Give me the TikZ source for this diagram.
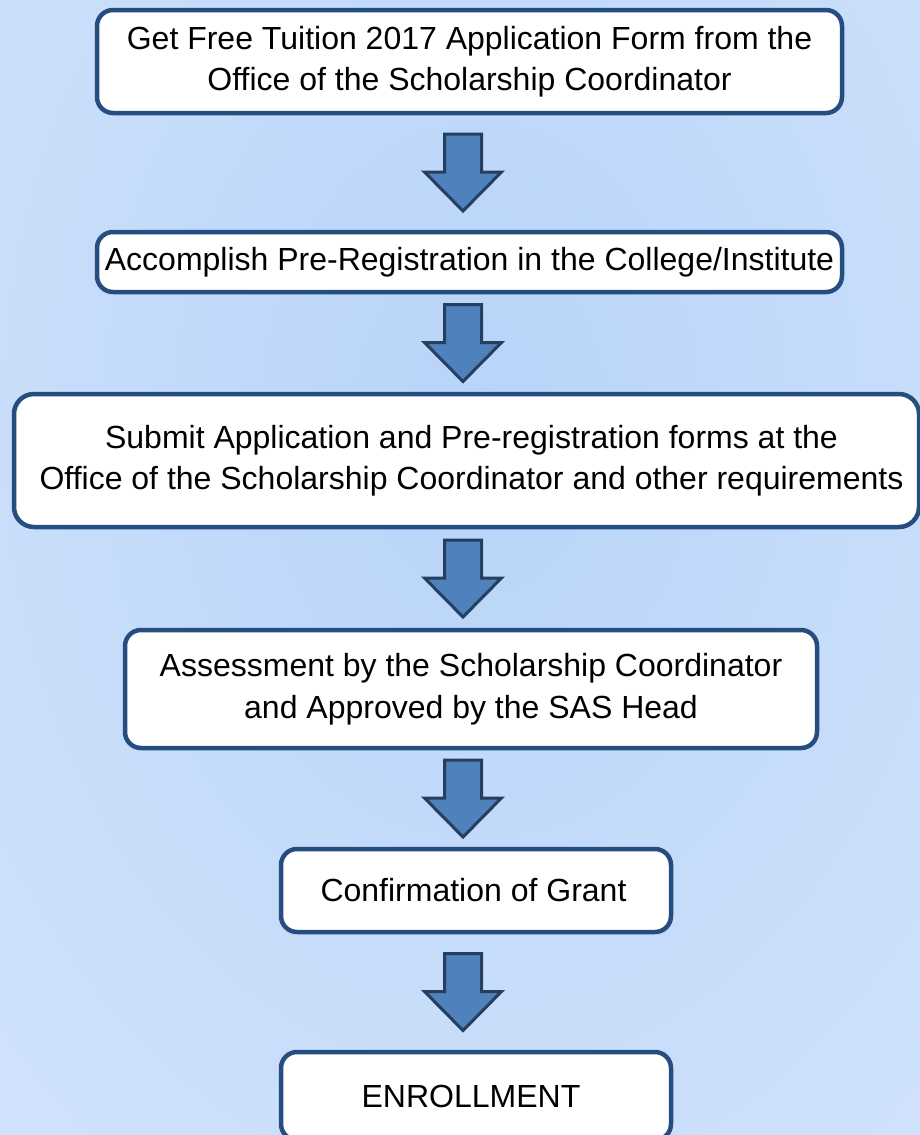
\documentclass[tikz,border=0pt]{standalone}
\usepackage{fontspec}
\setmainfont{Liberation Sans}
\usetikzlibrary{calc}

\definecolor{boxline}{RGB}{38,77,128}
\definecolor{arrowfill}{RGB}{79,129,189}
\definecolor{arrowline}{RGB}{36,63,96}
\definecolor{bginner}{RGB}{184,212,249}
\definecolor{bgouter}{RGB}{222,234,252}

\begin{document}
\begin{tikzpicture}[x=1pt,y=-1pt,
  stepbox/.style={draw=boxline,line width=4.5pt,fill=white,rounded corners=16pt,
    align=center,inner sep=0pt,font=\fontsize{32}{41.5}\selectfont},
  blockarrow/.style={draw=arrowline,line width=3pt,fill=arrowfill,line join=miter}]

% === Background ===
\useasboundingbox (0,0) rectangle (920,1135);
\begin{scope}
\clip (0,0) rectangle (920,1135);
\shade[inner color=bginner,outer color=bgouter] (-620,-1080) rectangle (1580,1920);
\end{scope}

% === Steps ===
\node[stepbox,minimum width=745pt,minimum height=103pt] (b1) at (469.5,61.5)
  {Get Free Tuition 2017 Application Form from the\\Office of the Scholarship Coordinator};
\node[stepbox,minimum width=745pt,minimum height=60pt] (b2) at (469.5,262)
  {Accomplish Pre-Registration in the College/Institute};
\node[stepbox,minimum width=905pt,minimum height=133pt,rounded corners=20pt] (b3) at (466.5,460.5)
  {\hspace*{10pt}Submit Application and Pre-registration forms at the\\
   \hspace*{10pt}Office of the Scholarship Coordinator and other requirements};
\node[stepbox,minimum width=692pt,minimum height=118pt] (b4) at (471,689)
  {Assessment by the Scholarship Coordinator\\and Approved by the SAS Head};
\node[stepbox,minimum width=390pt,minimum height=83pt] (b5) at (476,890.5)
  {Confirmation of Grant\hspace*{5pt}};
\node[stepbox,minimum width=390pt,minimum height=88pt] (b6) at (476,1096)
  {ENROLLMENT\hspace*{10pt}};

% === Block arrows between steps ===
\foreach \a/\b in {b1/b2,b2/b3,b3/b4,b4/b5,b5/b6} {
  \coordinate (m) at ($(\a.south)!0.5!(\b.north)$);
  \begin{scope}[shift={(463,0 |- m)}]
    \draw[blockarrow] (-18.5,-38.5) -- (18.5,-38.5) -- (18.5,-0.5) -- (38.5,-0.5)
      -- (0,38.5) -- (-38.5,-0.5) -- (-18.5,-0.5) -- cycle;
  \end{scope}
}

\end{tikzpicture}
\end{document}
